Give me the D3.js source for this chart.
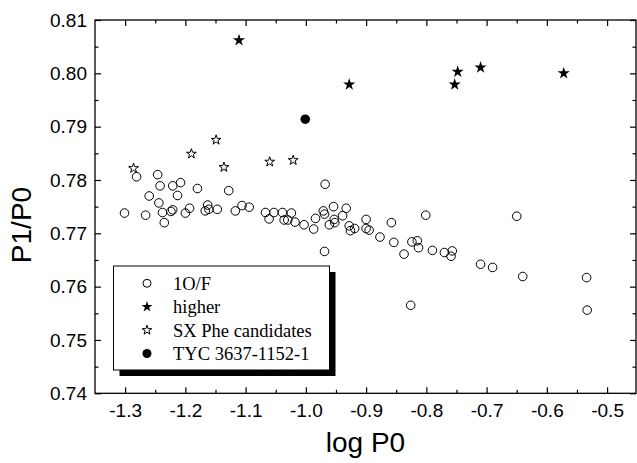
<!DOCTYPE html>
<html>
<head>
<meta charset="utf-8">
<script src="https://cdn.jsdelivr.net/npm/d3@7"></script>
<style>
  html, body { margin: 0; padding: 0; background: #fff; }
  svg { display: block; }
</style>
</head>
<body>
<svg id="chart" width="637" height="463"></svg>
<script>
// ---- data ----
const firstOvertoneX = [
  -1.301, -1.281, -1.266, -1.260, -1.246, -1.242, -1.244, -1.238, -1.235, -1.224,
  -1.221, -1.221, -1.213, -1.208, -1.200, -1.193, -1.180, -1.167, -1.163, -1.161,
  -1.147, -1.128, -1.117, -1.106, -1.094, -1.067, -1.061, -1.053, -1.039, -1.036,
  -1.030, -1.024, -1.018, -1.003, -0.987, -0.984, -0.971, -0.969, -0.954, -0.933,
  -0.953, -0.961, -0.952, -0.939, -0.928, -0.926, -0.919, -0.900, -0.900, -0.895,
  -0.877, -0.858, -0.854, -0.837, -0.969, -0.968, -0.801, -0.824, -0.815, -0.813,
  -0.790, -0.770, -0.759, -0.757, -0.710, -0.690, -0.650, -0.640, -0.826, -0.534,
  -0.533
];
const firstOvertoneY = [
  0.7738, 0.7806, 0.7734, 0.7770, 0.7810, 0.7789, 0.7757, 0.7739, 0.7720, 0.7741,
  0.7744, 0.7789, 0.7771, 0.7795, 0.7738, 0.7747, 0.7784, 0.7742, 0.7753, 0.7745,
  0.7745, 0.7780, 0.7742, 0.7752, 0.7749, 0.7739, 0.7727, 0.7739, 0.7739, 0.7725,
  0.7725, 0.7738, 0.7721, 0.7716, 0.7708, 0.7728, 0.7742, 0.7736, 0.7750, 0.7747,
  0.7726, 0.7716, 0.7720, 0.7733, 0.7714, 0.7705, 0.7709, 0.7726, 0.7709, 0.7706,
  0.7693, 0.7720, 0.7683, 0.7661, 0.7666, 0.7792, 0.7734, 0.7684, 0.7686, 0.7673,
  0.7668, 0.7664, 0.7657, 0.7667, 0.7642, 0.7636, 0.7732, 0.7619, 0.7565, 0.7617,
  0.7556
];
const higherX = [-1.111, -0.928, -0.753, -0.748, -0.710, -0.572];
const higherY = [0.8062, 0.7979, 0.7979, 0.8003, 0.8011, 0.8000];
const sxPheX = [-1.286, -1.190, -1.149, -1.136, -1.060, -1.021];
const sxPheY = [0.7822, 0.7849, 0.7875, 0.7824, 0.7834, 0.7837];
const tycX = [-1.001];
const tycY = [0.7914];

const xTicks = [-1.3, -1.2, -1.1, -1.0, -0.9, -0.8, -0.7, -0.6, -0.5];
const xMinorTicks = [-1.25, -1.15, -1.05, -0.95, -0.85, -0.75, -0.65, -0.55];
const yTicks = [0.74, 0.75, 0.76, 0.77, 0.78, 0.79, 0.80, 0.81];
const yMinorTicks = [0.745, 0.755, 0.765, 0.775, 0.785, 0.795, 0.805];
const legendLabels = ["1O/F", "higher", "SX Phe candidates", "TYC 3637-1152-1"];

// ---- layout ----
const svg = d3.select("#chart");
const mLeft = 95, mRight = 636, mTop = 20, mBottom = 393.3;
const x = d3.scaleLinear().domain([-1.35, -0.452]).range([mLeft, mRight]);
const y = d3.scaleLinear().domain([0.74, 0.81]).range([mBottom, mTop]);
const sansFont = "'Liberation Sans', Arial, Helvetica, sans-serif";
const serifFont = "'Liberation Serif', 'Times New Roman', serif";
const fmtX = d3.formatLocale({decimal: ".", thousands: ",", grouping: [3], currency: ["", ""], minus: "-"}).format(".1f");

function styleAxis(g) {
  g.select(".domain").remove();
  g.selectAll(".tick line").attr("stroke", "#000").attr("stroke-width", 1.2);
  g.selectAll(".tick text").attr("fill", "#000")
    .style("font-family", sansFont).style("font-size", "19px");
}

// major/minor ticks on all four sides, pointing inward
svg.append("g").attr("transform", `translate(0,${mBottom})`)
  .call(d3.axisBottom(x).tickValues(xTicks).tickSizeInner(-6).tickSizeOuter(0)
    .tickPadding(10).tickFormat(fmtX))
  .call(styleAxis);
svg.append("g").attr("transform", `translate(0,${mBottom})`)
  .call(d3.axisBottom(x).tickValues(xMinorTicks).tickSizeInner(-3.5).tickSizeOuter(0).tickFormat(""))
  .call(styleAxis);
svg.append("g").attr("transform", `translate(0,${mTop})`)
  .call(d3.axisTop(x).tickValues(xTicks).tickSizeInner(-6).tickSizeOuter(0).tickFormat(""))
  .call(styleAxis);
svg.append("g").attr("transform", `translate(0,${mTop})`)
  .call(d3.axisTop(x).tickValues(xMinorTicks).tickSizeInner(-3.5).tickSizeOuter(0).tickFormat(""))
  .call(styleAxis);

svg.append("g").attr("transform", `translate(${mLeft},0)`)
  .call(d3.axisLeft(y).tickValues(yTicks).tickSizeInner(-6).tickSizeOuter(0)
    .tickPadding(8).tickFormat(d3.format(".2f")))
  .call(styleAxis);
svg.append("g").attr("transform", `translate(${mLeft},0)`)
  .call(d3.axisLeft(y).tickValues(yMinorTicks).tickSizeInner(-3.5).tickSizeOuter(0).tickFormat(""))
  .call(styleAxis);
svg.append("g").attr("transform", `translate(${mRight},0)`)
  .call(d3.axisRight(y).tickValues(yTicks).tickSizeInner(-6).tickSizeOuter(0).tickFormat(""))
  .call(styleAxis);
svg.append("g").attr("transform", `translate(${mRight},0)`)
  .call(d3.axisRight(y).tickValues(yMinorTicks).tickSizeInner(-3.5).tickSizeOuter(0).tickFormat(""))
  .call(styleAxis);

// frame
svg.append("rect").attr("x", mLeft).attr("y", mTop)
  .attr("width", mRight - mLeft).attr("height", mBottom - mTop)
  .attr("fill", "none").attr("stroke", "#000").attr("stroke-width", 1.3);

// axis titles
svg.append("text").attr("x", (mLeft + mRight) / 2).attr("y", 452)
  .attr("text-anchor", "middle").style("font-family", sansFont).style("font-size", "28px")
  .text("log P0");
svg.append("text").attr("transform", "translate(31,225) rotate(-90)")
  .attr("text-anchor", "middle").style("font-family", sansFont).style("font-size", "28px")
  .text("P1/P0");

// ---- marks ----
const starOpen = d3.symbol().type(d3.symbolStar).size(30);
const starFilled = d3.symbol().type(d3.symbolStar).size(46);

const marks = svg.append("g");
marks.selectAll("circle.fo").data(d3.range(firstOvertoneX.length)).join("circle")
  .attr("class", "fo")
  .attr("cx", i => x(firstOvertoneX[i])).attr("cy", i => y(firstOvertoneY[i]))
  .attr("r", 4.3).attr("fill", "none").attr("stroke", "#000").attr("stroke-width", 1);

marks.selectAll("path.sx").data(d3.range(sxPheX.length)).join("path")
  .attr("class", "sx")
  .attr("transform", i => `translate(${x(sxPheX[i])},${y(sxPheY[i])})`)
  .attr("d", starOpen).attr("fill", "#fff").attr("stroke", "#000").attr("stroke-width", 1);

marks.selectAll("path.hi").data(d3.range(higherX.length)).join("path")
  .attr("class", "hi")
  .attr("transform", i => `translate(${x(higherX[i])},${y(higherY[i])})`)
  .attr("d", starFilled).attr("fill", "#000");

marks.selectAll("circle.tyc").data(d3.range(tycX.length)).join("circle")
  .attr("class", "tyc")
  .attr("cx", i => x(tycX[i])).attr("cy", i => y(tycY[i]))
  .attr("r", 4.8).attr("fill", "#000");

// ---- legend ----
const lg = svg.append("g");
const lx = 113.5, ly = 266, lw = 216, lh = 104;
lg.append("rect").attr("x", lx + 6).attr("y", ly + 6).attr("width", lw).attr("height", lh).attr("fill", "#000");
lg.append("rect").attr("x", lx).attr("y", ly).attr("width", lw).attr("height", lh)
  .attr("fill", "#fff").attr("stroke", "#000").attr("stroke-width", 1);

const rowY = [283.3, 306.8, 330.2, 353.5];
const symX = 147, textX = 173;
lg.append("circle").attr("cx", symX).attr("cy", rowY[0]).attr("r", 4)
  .attr("fill", "none").attr("stroke", "#000").attr("stroke-width", 1);
lg.append("path").attr("transform", `translate(${symX},${rowY[1]})`)
  .attr("d", d3.symbol().type(d3.symbolStar).size(38)).attr("fill", "#000");
lg.append("path").attr("transform", `translate(${symX},${rowY[2]})`)
  .attr("d", d3.symbol().type(d3.symbolStar).size(28)).attr("fill", "#fff")
  .attr("stroke", "#000").attr("stroke-width", 1);
lg.append("circle").attr("cx", symX).attr("cy", rowY[3]).attr("r", 4.5).attr("fill", "#000");

lg.selectAll("text").data(legendLabels).join("text")
  .attr("x", textX).attr("y", (d, i) => rowY[i] + 6.5)
  .style("font-family", serifFont).style("font-size", "18.5px")
  .text(d => d);
</script>
</body>
</html>
